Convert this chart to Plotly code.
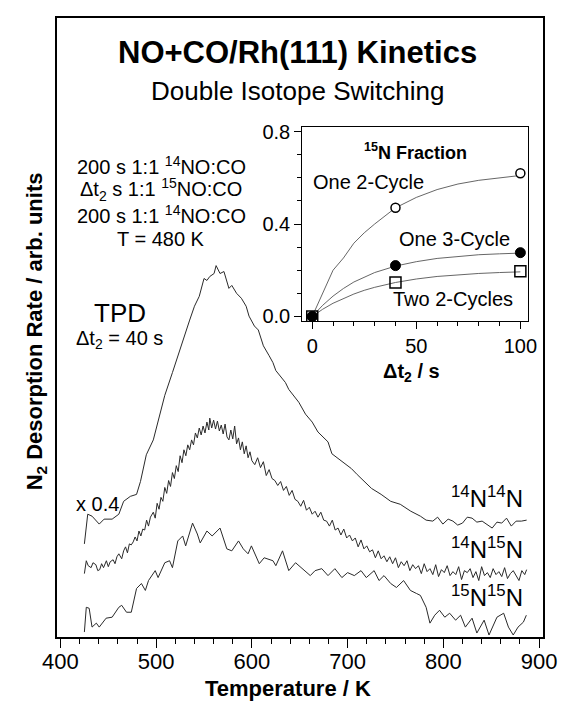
import plotly.graph_objects as go

# ---------------- data ----------------
# TPD traces: temperature (K) and desorption rate (arb. units, offset traces)
T_1414 = [425, 428.5, 433, 440.5, 445.6, 454, 461, 466, 473, 479.5, 483.6, 489.7, 497, 502, 509,
          517, 524.6, 527.7, 535, 540, 545, 550, 553, 556, 560.5, 562.6, 566.7, 570.8, 576, 579,
          584, 589, 594, 597, 602.6, 606.7, 612, 618, 622, 625, 635, 638.5, 649, 656, 663,
          669, 679.5, 683.6, 694, 704, 710, 725, 735, 745, 755, 766, 776, 782, 789, 794,
          799.5, 805, 810, 815, 820, 825, 830, 835, 840.5, 846, 851, 856, 861, 866, 871,
          876, 881.5, 887]
R_1414 = [94, 124, 122, 114, 119, 119, 124, 137, 142, 144, 157, 184, 199, 217, 244,
          267, 290, 297, 320, 334, 344, 362, 360, 364, 367, 375, 367, 369, 352, 355,
          347, 342, 334, 324, 314, 310, 294, 284, 277, 269, 257, 250, 237, 225, 217,
          207, 197, 185, 177, 170, 164, 150, 144, 137, 134, 127, 122, 118, 117, 121,
          114, 119, 117, 113, 115, 121, 120, 116, 117, 113, 110, 116, 115, 120, 112,
          117, 117, 118]

T_1415 = [425, 427, 429, 432, 434, 437, 439, 441, 443, 445,
          448, 450, 452, 455, 457, 459, 461, 464, 466, 468,
          470, 472, 474, 476, 478, 480, 482, 484, 486, 488,
          490, 492, 494, 497, 499, 501, 503, 505, 507, 509,
          511, 513, 515, 517, 519, 521, 523, 525, 527, 529,
          531, 533, 535, 537, 539, 541, 543, 545, 547, 549,
          551, 553, 555, 556, 558, 560, 562, 564, 566, 568,
          570, 572, 574, 576, 578, 580, 582, 584, 586, 588,
          590, 592, 594, 596, 598,
          600, 603, 606, 609, 612, 615, 618, 621, 624, 627,
          630, 633, 636, 639, 642, 645, 648, 651, 654, 657,
          660, 663, 666, 669, 672, 675, 678, 681, 684, 687,
          690, 693, 696, 699, 702, 705, 708, 711, 714, 717,
          720, 723, 726, 729, 732, 735, 738, 741, 744, 747,
          750, 753, 756, 759, 762, 765, 768, 771, 774, 777,
          780, 783, 786, 789, 792, 795, 798, 801, 804, 807,
          810, 813, 816, 819, 822, 825, 828, 831, 834, 837,
          840, 843, 846, 849, 852, 855, 858, 861, 864, 867,
          870, 873, 876, 879, 882, 885, 887]
R_1415 = [64, 77, 72, 70, 75, 73, 67, 68, 74, 70,
          77, 71, 76, 78, 74, 81, 84, 79, 87, 91,
          85, 94, 93, 96, 101, 97, 107, 102, 109, 108,
          118, 112, 121, 126, 120, 135, 129, 141, 137, 151,
          145, 158, 152, 166, 160, 173, 167, 183, 176, 189,
          183, 194, 189, 199, 194, 206, 201, 211, 204, 213,
          206, 217, 209, 221, 211, 219, 210, 218, 208, 214,
          205, 215, 202, 199, 209, 200, 213, 195, 201, 189,
          197, 185, 193, 181, 187,
          178, 174, 181, 171, 177, 163, 169, 160, 158, 153,
          157, 148, 152, 143, 148, 139, 137, 132, 138, 128,
          131, 124, 127, 121, 126, 118, 117, 112, 118, 108,
          110, 103, 109, 100, 103, 97, 100, 91, 98, 89,
          92, 86, 88, 80, 87, 79, 82, 76, 81, 74,
          80, 70, 76, 72, 77, 67, 73, 69, 72, 64,
          74, 66, 69, 63, 73, 61, 68, 65, 72, 62,
          66, 63, 71, 58, 67, 65, 69, 60, 66, 57,
          71, 62, 65, 60, 69, 63, 66, 61, 70, 59,
          64, 67, 62, 57, 67, 63, 68]

T_1515 = [425, 427, 430, 433, 437.5, 440.5, 447.7, 454, 461, 464, 469, 474, 479.5, 484.6, 488.7,
          492, 499, 502, 509, 514, 517, 522.6, 527.7, 530.8, 538, 543, 546, 553, 558.5, 566.7,
          573.8, 579, 586, 591, 596, 599.5, 607.7, 612.8, 622, 625, 632, 638.5, 645.6, 652.8, 661,
          666, 673, 679.5, 686.7, 694, 700, 707, 714, 719.5, 727.7, 732.8, 738, 745, 751, 758.5,
          765.6, 771.8, 776, 782, 786, 791, 796, 801.5, 806.6, 812.8, 818, 823, 830, 835, 842.6,
          847.7, 852.8, 856, 863, 868, 873, 878, 883.6, 886.7]
R_1515 = [5, 30, 29, 10, 14, 10, 19, 20, 30, 32, 25, 25, 49, 54, 47,
          57, 67, 60, 75, 77, 70, 97, 102, 92, 115, 104, 95, 107, 102, 110,
          89, 87, 97, 89, 84, 92, 74, 80, 77, 72, 87, 67, 75, 69, 62,
          67, 69, 62, 69, 60, 65, 62, 67, 60, 67, 57, 62, 54, 50, 57,
          47, 44, 42, 30, 14, 22, 27, 20, 24, 17, 22, 10, 19, 4, 17,
          2, 14, 20, 24, 10, 2, 10, 15, 22]

# Inset: 15N fraction vs switching time
DT = [0, 40, 100]
F_ONE2 = [0.0, 0.47, 0.62]
F_ONE3 = [0.0, 0.22, 0.276]
F_TWO2 = [0.0, 0.147, 0.196]
# fitted curves
FIT_T = [0, 5, 10, 15, 20, 25, 30, 40, 50, 60, 70, 80, 90, 100]
FIT_ONE2 = [0, 0.10, 0.20, 0.253, 0.317, 0.362, 0.40, 0.47, 0.515, 0.549, 0.573, 0.589, 0.601, 0.61]
FIT_ONE3 = [0, 0.048, 0.088, 0.121, 0.149, 0.171, 0.19, 0.218, 0.237, 0.251, 0.26, 0.267, 0.271, 0.274]
FIT_TWO2 = [0, 0.031, 0.057, 0.078, 0.097, 0.113, 0.126, 0.147, 0.162, 0.173, 0.18, 0.186, 0.19, 0.193]

X_TICKS = [400, 500, 600, 700, 800, 900]
INSET_X_TICKS = [0, 50, 100]
INSET_Y_TICKS = [0.0, 0.4, 0.8]

# ---------------- layout helpers ----------------
W, H = 569, 704
L, R, T, B = 57, 552, 12, 637
FONT = "Liberation Sans, Arial, Helvetica, sans-serif"


def px(x):
    return (x - L) / (R - L)


def py(y):
    return (B - y) / (B - T)


fig = go.Figure()
line_style = dict(color="#2a2a2a", width=1)
for tx, rx in [(T_1414, R_1414), (T_1415, R_1415), (T_1515, R_1515)]:
    fig.add_trace(go.Scatter(x=tx, y=rx, mode="lines", line=line_style,
                             showlegend=False, xaxis="x", yaxis="y", cliponaxis=True))

fit_style = dict(color="#555", width=0.9)
for fy in [FIT_ONE2, FIT_ONE3, FIT_TWO2]:
    fig.add_trace(go.Scatter(x=FIT_T, y=fy, mode="lines", line=fit_style,
                             showlegend=False, xaxis="x2", yaxis="y2"))
fig.add_trace(go.Scatter(x=DT, y=F_ONE2, mode="markers", xaxis="x2", yaxis="y2", showlegend=False,
                         marker=dict(symbol="circle", size=9, color="white",
                                     line=dict(color="black", width=1.5))))
fig.add_trace(go.Scatter(x=DT, y=F_ONE3, mode="markers", xaxis="x2", yaxis="y2", showlegend=False,
                         marker=dict(symbol="circle", size=10, color="black",
                                     line=dict(color="black", width=1))))
fig.add_trace(go.Scatter(x=DT, y=F_TWO2, mode="markers", xaxis="x2", yaxis="y2", showlegend=False,
                         marker=dict(symbol="square-open", size=11,
                                     line=dict(color="black", width=1.5), color="black")))

ann = []


def text(x, y, s, size, bold=False, angle=0, xanchor="center"):
    if bold:
        s = "<b>" + s + "</b>"
    ann.append(dict(x=px(x), y=py(y), xref="paper", yref="paper", text=s, showarrow=False,
                    xanchor=xanchor, yanchor="middle", textangle=angle,
                    font=dict(family=FONT, size=size, color="black")))


text(302, 47, "NO+CO/Rh(111) Kinetics", 31, bold=True)
text(302, 86, "Double Isotope Switching", 26)
text(163, 161, "200 s 1:1 <sup>14</sup>NO:CO", 20)
text(163, 185, "Δt<sub>2</sub> s 1:1 <sup>15</sup>NO:CO", 20)
text(163, 210, "200 s 1:1 <sup>14</sup>NO:CO", 20)
text(163, 235, "T = 480 K", 20)
text(121, 310, "TPD", 26)
text(121, 337, "Δt<sub>2</sub> = 40 s", 20)
text(98, 503, "x 0.4", 20)
text(495, 496, "<sup>14</sup>N<sup>14</sup>N", 24)
text(495, 547, "<sup>14</sup>N<sup>15</sup>N", 24)
text(495, 596, "<sup>15</sup>N<sup>15</sup>N", 24)
text(422, 147, "<sup>15</sup>N Fraction", 18, bold=True)
text(374, 178, "One 2-Cycle", 20)
text(462, 235, "One 3-Cycle", 20)
text(460, 296, "Two 2-Cycles", 20)
text(418, 370, "Δt<sub>2</sub> / s", 20, bold=True)
text(292, 689, "Temperature / K", 22, bold=True)
text(36, 328, "N<sub>2</sub> Desorption Rate / arb. units", 22, bold=True, angle=-90)

axis_common = dict(showgrid=False, zeroline=False, showline=True, linecolor="black",
                   mirror=True)

fig.update_layout(
    width=W, height=H,
    margin=dict(l=L, r=W - R, t=T, b=H - B),
    paper_bgcolor="white", plot_bgcolor="white",
    font=dict(family=FONT, color="black"),
    xaxis=dict(axis_common, range=[396.4, 904.1], linewidth=1.6,
               tickmode="array", tickvals=X_TICKS, ticks="outside", ticklen=9, tickwidth=1.4,
               tickcolor="black", tickfont=dict(size=22, family=FONT), ticklabelstandoff=-5,
               minor=dict(dtick=20, tick0=400, ticks="outside", ticklen=5, tickwidth=1.2,
                          tickcolor="black")),
    yaxis=dict(axis_common, range=[0, 625], linewidth=1.6, showticklabels=False, ticks=""),
    xaxis2=dict(axis_common, domain=[px(307), px(537)], anchor="y2", range=[-4.7, 103.8],
                linewidth=1.4, tickmode="array", tickvals=INSET_X_TICKS, ticks="outside",
                ticklen=7, tickwidth=1.2, tickcolor="black",
                tickfont=dict(size=20, family=FONT),
                minor=dict(dtick=10, tick0=0, ticks="outside", ticklen=4, tickwidth=1.1,
                           tickcolor="black")),
    yaxis2=dict(axis_common, domain=[py(318), py(122)], anchor="x2", range=[-0.02, 0.82],
                linewidth=1.4, tickmode="array", tickvals=INSET_Y_TICKS, tickformat=".1f",
                ticks="outside", ticklen=7, tickwidth=1.2, tickcolor="black",
                tickfont=dict(size=20, family=FONT),
                minor=dict(dtick=0.1, tick0=0, ticks="outside", ticklen=4, tickwidth=1.1,
                           tickcolor="black")),
    annotations=ann,
    showlegend=False,
)

fig.write_html("out.html")
